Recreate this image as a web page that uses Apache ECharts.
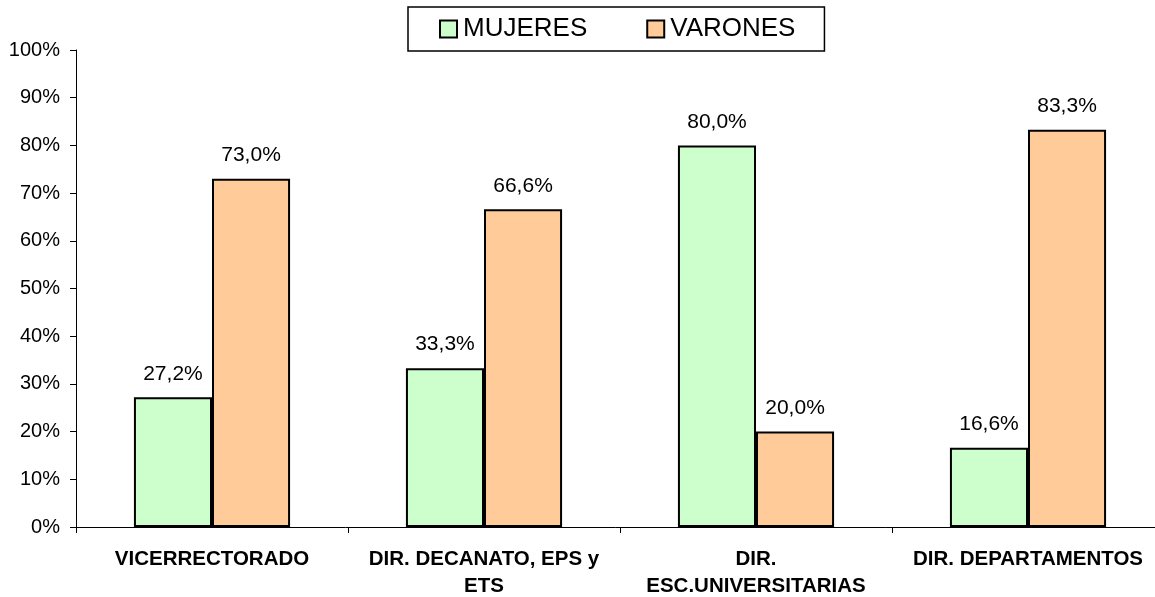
<!DOCTYPE html>
<html><head><meta charset="utf-8">
<script src="https://cdn.jsdelivr.net/npm/echarts@6/dist/echarts.min.js"></script>
<style>html,body{margin:0;padding:0;background:#fff}#c{width:1155px;height:597px}</style>
</head><body><div id="c"></div>
<script>
const categories = ['VICERRECTORADO', 'DIR. DECANATO, EPS y\nETS', 'DIR.\nESC.UNIVERSITARIAS', 'DIR. DEPARTAMENTOS'];
const mujeres = [27.2, 33.3, 80.0, 16.6];
const varones = [73.0, 66.6, 20.0, 83.3];
const seriesNames = ['MUJERES', 'VARONES'];

const chart = echarts.init(document.getElementById('c'));
const fmt = p => p.value.toFixed(1).replace('.', ',') + '%';
const label = {show: true, position: 'top', distance: 13, formatter: fmt, fontFamily: 'Liberation Sans, Arial', fontSize: 21, color: '#000'};
chart.setOption({
  animation: false,
  grid: {left: 76, right: -9, top: 50, bottom: 70, outerBoundsMode: 'none', containLabel: false},
  legend: {
    top: 7, left: 408, itemWidth: 17, itemHeight: 17, itemGap: 59,
    padding: [9, 29, 9, 31],
    borderColor: '#000', borderWidth: 1.5,
    textStyle: {fontFamily: 'Liberation Sans, Arial', fontSize: 26, color: '#000', padding: [0, 0, 0, 1]},
    data: seriesNames.map(n => ({name: n, icon: 'rect', itemStyle: {borderColor: '#000', borderWidth: 2}}))
  },
  xAxis: {
    type: 'category', data: categories,
    axisLine: {lineStyle: {color: '#000', width: 1}},
    axisTick: {show: true, length: 6, lineStyle: {color: '#000'}, inside: false},
    axisLabel: {fontFamily: 'Liberation Sans, Arial', fontWeight: 'bold', fontSize: 20.5, color: '#000', margin: 18.5, lineHeight: 27, interval: 0}
  },
  yAxis: {
    type: 'value', min: 0, max: 100, interval: 10,
    axisLine: {show: true, lineStyle: {color: '#000', width: 1}},
    axisTick: {show: true, length: 6, lineStyle: {color: '#000'}},
    splitLine: {show: false},
    axisLabel: {formatter: '{value}%', fontFamily: 'Liberation Sans, Arial', fontSize: 20, color: '#000', margin: 16}
  },
  series: [
    {name: seriesNames[0], type: 'bar', data: mujeres, barGap: '0%', barCategoryGap: '42.6%',
     itemStyle: {color: '#CCFFCC', borderColor: '#000', borderWidth: 2}, label},
    {name: seriesNames[1], type: 'bar', data: varones,
     itemStyle: {color: '#FFCC99', borderColor: '#000', borderWidth: 2}, label}
  ]
});
</script></body></html>
